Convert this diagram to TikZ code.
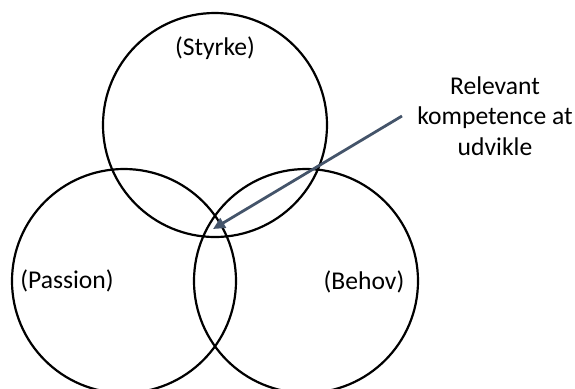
\documentclass[tikz,border=0pt]{standalone}
\usepackage{fontspec}
\setmainfont{Carlito}
\usetikzlibrary{arrows.meta}
\definecolor{slate}{HTML}{44546A}
\begin{document}
\begin{tikzpicture}
  [x=0.5pt,y=-0.5pt,
   every node/.style={font=\fontsize{12.8}{15.3}\selectfont},
   ring/.style={circle,draw,line width=1.1pt,minimum size=112pt,inner sep=0pt},
   pointer/.style={draw=slate,line width=1.4pt,-{Triangle[length=6pt,width=5.5pt]}}]
  \useasboundingbox (0,0) rectangle (575,388);
  \foreach \name/\x/\y in {styrke/215/125,passion/124/281,behov/306/281}
    \node[ring] (\name) at (\x,\y) {};
  \node (lstyrke) at (215,48) {(Styrke)};
  \node (lpassion) at (67,281) {(Passion)};
  \node (lbehov) at (364,282) {(Behov)};
  \node[align=center,inner sep=7.5pt] (kompetence) at (495,116) {Relevant\\kompetence at\\udvikle};
  \coordinate (midt) at (213,229);
  \draw[pointer] (kompetence.west) -- (midt);
\end{tikzpicture}
\end{document}
